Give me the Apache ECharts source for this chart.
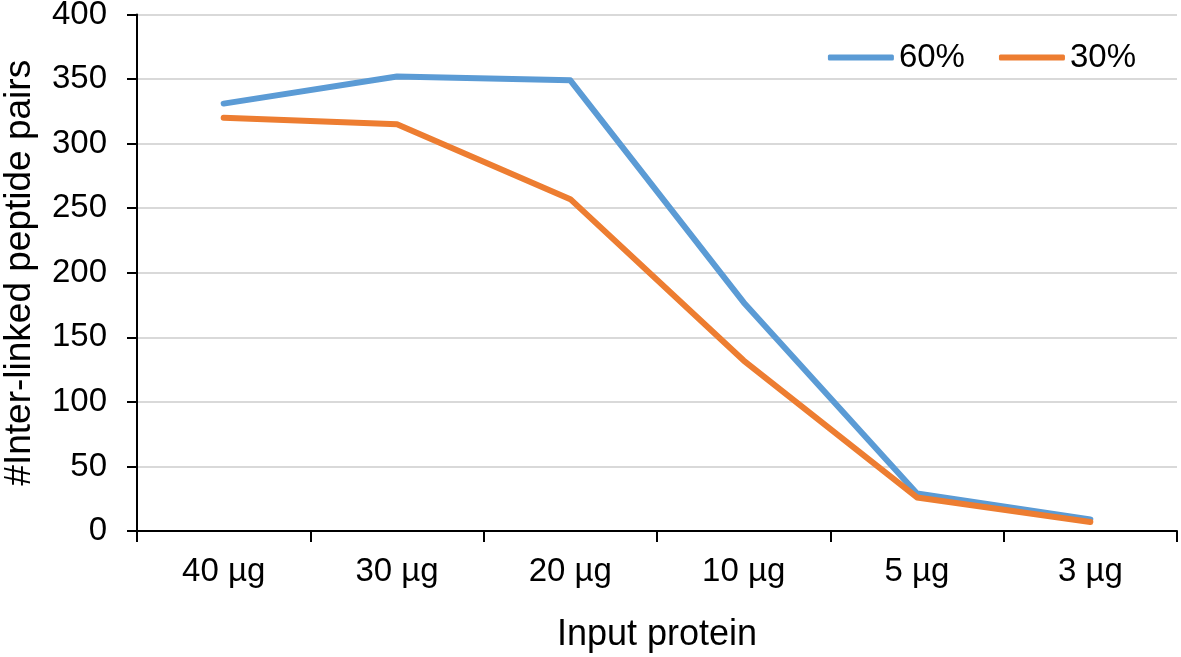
<!DOCTYPE html>
<html><head><meta charset="utf-8">
<script src="https://cdn.jsdelivr.net/npm/echarts@6/dist/echarts.min.js"></script>
<style>html,body{margin:0;padding:0;background:#fff}#c{width:1181px;height:657px}</style>
</head><body><div id="c"></div>
<script>
var categories = ['40 µg', '30 µg', '20 µg', '10 µg', '5 µg', '3 µg'];
var series60 = [331, 352, 349, 177, 29, 9];
var series30 = [320, 315, 257, 132, 26, 7];
var yTicks = [0, 50, 100, 150, 200, 250, 300, 350, 400];

var chart = echarts.init(document.getElementById('c'));
var font = 'Liberation Sans, Arial, sans-serif';
chart.setOption({
  animation: false,
  backgroundColor: '#fff',
  grid: {left: 137, right: 4, top: 14.5, bottom: 126, containLabel: false, outerBoundsMode: 'none'},
  legend: {
    right: 40, top: 36, itemWidth: 66, itemHeight: 6, itemGap: 34,
    textStyle: {fontFamily: font, fontSize: 33, color: '#000'},
    icon: 'roundRect',
    data: ['60%', '30%']
  },
  xAxis: {
    type: 'category', data: categories, boundaryGap: true,
    name: 'Input protein', nameLocation: 'middle', nameGap: 86,
    nameTextStyle: {fontFamily: font, fontSize: 36, color: '#000'},
    axisLine: {lineStyle: {color: '#000', width: 2}},
    axisTick: {show: true, length: 11, lineStyle: {color: '#000', width: 2}},
    axisLabel: {fontFamily: font, fontSize: 33, color: '#000', margin: 24}
  },
  yAxis: {
    type: 'value', min: yTicks[0], max: yTicks[yTicks.length-1], interval: 50,
    name: '#Inter-linked peptide pairs', nameLocation: 'middle', nameGap: 99,
    nameTextStyle: {fontFamily: font, fontSize: 37, color: '#000'},
    axisLine: {show: true, lineStyle: {color: '#000', width: 2}},
    axisTick: {show: true, length: 10, lineStyle: {color: '#000', width: 2}},
    axisLabel: {fontFamily: font, fontSize: 33, color: '#000', margin: 30},
    splitLine: {lineStyle: {color: '#d9d9d9', width: 2}}
  },
  series: [
    {name: '60%', type: 'line', data: series60, symbol: 'none', smooth: false,
     lineStyle: {color: '#5B9BD5', width: 6, cap: 'round', join: 'round'}, itemStyle: {color: '#5B9BD5'}},
    {name: '30%', type: 'line', data: series30, symbol: 'none', smooth: false,
     lineStyle: {color: '#ED7D31', width: 6, cap: 'round', join: 'round'}, itemStyle: {color: '#ED7D31'}}
  ]
});
</script></body></html>
